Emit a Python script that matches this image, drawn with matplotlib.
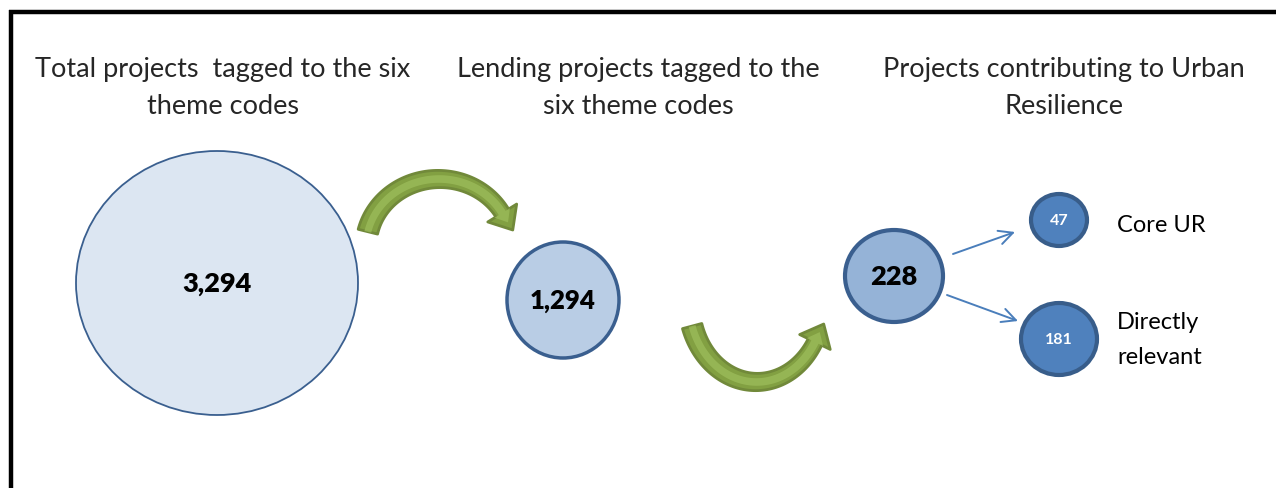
import numpy as np
import matplotlib
matplotlib.use("Agg")
import matplotlib.pyplot as plt
from matplotlib.patches import Ellipse, Polygon

plt.rcParams['font.family'] = ['Lato', 'DejaVu Sans']

# stage headings
titles = [
    "Total projects  tagged to the six\ntheme codes",
    "Lending projects tagged to the\nsix theme codes",
    "Projects contributing to Urban\nResilience",
]
# project counts per stage
totals = [3294, 1294, 228]
# split of the 228 urban resilience projects
split_labels = ["Core UR", "Directly\nrelevant"]
split_counts = [47, 181]

W, H = 1276, 489
fig = plt.figure(figsize=(W / 100, H / 100), dpi=100)
ax = fig.add_axes([0, 0, 1, 1])
ax.set_xlim(0, W)
ax.set_ylim(H, 0)
ax.axis("off")

# frame (top and left edges only)
ax.plot([9, W], [13, 13], color="black", lw=3.2, solid_capstyle="butt")
ax.plot([11, 11], [11, H], color="black", lw=3.2, solid_capstyle="butt")

title_x = [223, 638, 1064]
for x, t in zip(title_x, titles):
    ax.text(x, 88, t, ha="center", va="center", fontsize=19.5,
            color="#262626", linespacing=1.65)

# stage bubbles
bubble_xy = [(217, 284), (563, 301), (894, 277)]
bubble_wh = [(282, 264), (112, 116), (98, 92)]
bubble_fc = ["#dce6f2", "#b9cde5", "#95b3d7"]
bubble_lw = [1.3, 2.5, 3.0]
bubble_fs = [19.5, 18.5, 19.5]
for (x, y), (w, h), fc, lw, fs, n in zip(bubble_xy, bubble_wh, bubble_fc,
                                        bubble_lw, bubble_fs, totals):
    ax.add_patch(Ellipse((x, y), w, h, facecolor=fc, edgecolor="#3a5f8f", lw=lw))
    ax.text(x, y, f"{n:,}", ha="center", va="center", fontsize=fs,
            fontweight="heavy", color="black")

# split bubbles
split_xy = [(1059, 221), (1059, 340)]
split_wh = [(56, 52), (76, 72)]
for (x, y), (w, h), n in zip(split_xy, split_wh, split_counts):
    ax.add_patch(Ellipse((x, y), w, h, facecolor="#4f81bd", edgecolor="#385d8a", lw=3))
    ax.text(x, y, str(n), ha="center", va="center", fontsize=11.5,
            fontweight="bold", color="white")

label_y = [226, 340]
for y, t in zip(label_y, split_labels):
    ax.text(1117, y, t, ha="left", va="center", fontsize=17, color="black",
            linespacing=1.8)

# thin connector arrows from 228 to its parts
for (x0, y0), (x1, y1) in [((953, 255), (1015, 233)), ((947, 296), (1018, 322))]:
    ax.annotate("", xy=(x1, y1), xytext=(x0, y0),
                arrowprops=dict(arrowstyle="->,head_length=1.0,head_width=0.5",
                                color="#4a7ebb", lw=1.4, shrinkA=0, shrinkB=0))


def curved_arrow(cx, cy, rx, ry, a0, a1, w0, w1, head_w, head_l, down=False):
    """Tapered arc band with a triangular head, in pixel coordinates."""
    t = np.radians(np.linspace(a0, a1, 80))
    sgn = 1 if down else -1
    px = cx + rx * np.cos(t)
    py = cy + sgn * ry * np.sin(t)
    dx = -rx * np.sin(t)
    dy = sgn * ry * np.cos(t)
    if a1 < a0:
        dx, dy = -dx, -dy
    L = np.hypot(dx, dy)
    ux, uy = dx / L, dy / L
    nx, ny = -uy, ux
    hw = np.linspace(w0, w1, len(t)) / 2
    left = np.column_stack([px + nx * hw, py + ny * hw])
    right = np.column_stack([px - nx * hw, py - ny * hw])
    bx, by = px[-1], py[-1]
    head = np.array([
        [bx + nx[-1] * head_w, by + ny[-1] * head_w],
        [bx + ux[-1] * head_l, by + uy[-1] * head_l],
        [bx - nx[-1] * head_w, by - ny[-1] * head_w],
    ])
    return np.vstack([left, head, right[::-1]])


green_arrows = [
    dict(cx=439, cy=248, rx=73, ry=68, a0=167, a1=30, down=False),
    dict(cx=756.5, cy=303, rx=67.5, ry=80, a0=162.5, a1=30, down=True),
]
for g in green_arrows:
    outer = curved_arrow(w0=20, w1=15, head_w=17, head_l=20, **g)
    ax.add_patch(Polygon(outer, closed=True, facecolor="#82a042",
                         edgecolor="#71893a", lw=2, joinstyle="round"))
    inner = curved_arrow(w0=7, w1=8, head_w=9, head_l=11, **g)
    ax.add_patch(Polygon(inner, closed=True, facecolor="#9bbb59",
                         edgecolor="none", alpha=0.8))

fig.savefig("out.png", dpi=100, facecolor="white")
